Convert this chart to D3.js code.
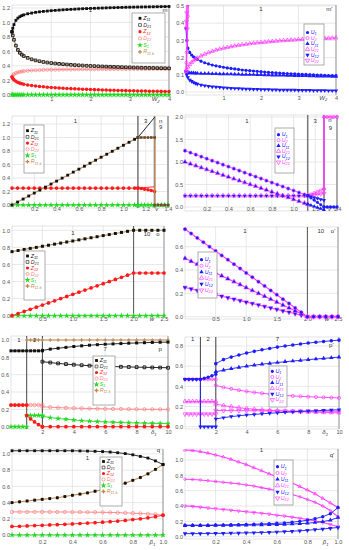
<!DOCTYPE html>
<html>
<head>
<meta charset="utf-8">
<script src="https://cdn.jsdelivr.net/npm/d3@7"></script>
<style>
  body { margin: 0; background: #fff; }
  svg { display: block; font-family: "Liberation Sans", Arial, sans-serif; }
</style>
</head>
<body>
<svg id="chart" width="349" height="550"></svg>
<script>
// ---------- legend keys ----------
var leftKeys = [
    {t: "Z", s: "11", c: "#111", sym: "sq"},
    {t: "D", s: "21", c: "#333", sym: "sq", open: true},
    {t: "Z", s: "12", c: "#ff1a1a", sym: "ci"},
    {t: "D", s: "22", c: "#ff8080", sym: "ci", open: true},
    {t: "S", s: "1", c: "#22d822", sym: "star"},
    {t: "R", s: "11 b", c: "#c08850", sym: "cross"}
];
var rightKeys = [
    {t: "U", s: "1", c: "#1c1cff", sym: "ci"},
    {t: "U", s: "2", c: "#ff3cff", sym: "ci", open: true},
    {t: "U", s: "11", c: "#1c1cff", sym: "tri"},
    {t: "U", s: "21", c: "#ff3cff", sym: "tri", open: true},
    {t: "U", s: "12", c: "#1c1cff", sym: "tri", rot: true},
    {t: "U", s: "22", c: "#ff3cff", sym: "tri", open: true, rot: true}
];

// ---------- m / m' : W2 ----------
var mW = [0,0.02,0.05,0.1,0.15,0.2,0.25,0.3,0.4,0.5,0.6,0.7,0.8,0.9,1.0,1.1,1.2,1.3,1.4,1.5,1.6,1.7,1.8,1.9,2.0,2.1,2.2,2.3,2.4,2.5,2.6,2.7,2.8,2.9,3.0,3.1,3.2,3.3,3.4,3.5,3.6,3.7,3.8,3.9,4.0];
var mZ11 = [0.87,0.92,0.97,1.03,1.06,1.08,1.095,1.105,1.12,1.13,1.14,1.147,1.153,1.158,1.163,1.167,1.171,1.175,1.178,1.181,1.184,1.187,1.19,1.192,1.194,1.196,1.198,1.2,1.202,1.204,1.205,1.207,1.208,1.21,1.211,1.212,1.213,1.214,1.215,1.216,1.217,1.218,1.219,1.22,1.221];
var mD21 = [0.87,0.82,0.76,0.68,0.62,0.58,0.555,0.535,0.51,0.49,0.475,0.463,0.453,0.445,0.438,0.432,0.427,0.422,0.418,0.414,0.41,0.407,0.404,0.401,0.398,0.396,0.393,0.391,0.389,0.387,0.385,0.383,0.381,0.379,0.378,0.376,0.375,0.373,0.372,0.371,0.37,0.368,0.367,0.366,0.365];
var mR11b = mD21; // R11b lies on the lower branch
var mZ12 = [0.245,0.225,0.205,0.185,0.17,0.16,0.152,0.145,0.135,0.127,0.12,0.114,0.109,0.104,0.1,0.096,0.093,0.09,0.087,0.084,0.081,0.079,0.076,0.074,0.072,0.07,0.068,0.066,0.064,0.062,0.061,0.059,0.058,0.056,0.055,0.054,0.052,0.051,0.05,0.049,0.048,0.047,0.046,0.045,0.044];
var mD22 = [0.245,0.265,0.285,0.3,0.31,0.317,0.322,0.326,0.332,0.336,0.339,0.341,0.343,0.345,0.346,0.347,0.348,0.349,0.35,0.35,0.351,0.351,0.352,0.352,0.353,0.353,0.353,0.354,0.354,0.354,0.355,0.355,0.355,0.355,0.356,0.356,0.356,0.356,0.356,0.356,0.357,0.357,0.357,0.357,0.357];
var mS1 = [0,0,0,0,0,0,0,0,0,0,0,0,0,0,0,0,0,0,0,0,0,0,0,0,0,0,0,0,0,0,0,0,0,0,0,0,0,0,0,0,0,0,0,0,0];
var mU1 = [0.37,0.3,0.255,0.23,0.215,0.205,0.197,0.19,0.179,0.17,0.163,0.157,0.152,0.148,0.144,0.14,0.137,0.134,0.131,0.128,0.126,0.124,0.122,0.12,0.118,0.116,0.114,0.113,0.111,0.11,0.108,0.107,0.106,0.105,0.104,0.103,0.102,0.101,0.1,0.099,0.098,0.097,0.096,0.096,0.095];
var mU11 = [0.12,0.116,0.113,0.111,0.11,0.11,0.109,0.109,0.108,0.107,0.107,0.106,0.106,0.105,0.105,0.104,0.104,0.103,0.103,0.102,0.102,0.101,0.101,0.1,0.1,0.099,0.099,0.098,0.098,0.097,0.097,0.096,0.096,0.095,0.095,0.094,0.094,0.093,0.093,0.092,0.092,0.091,0.091,0.09,0.09];
var mU12 = [0.12,0.1,0.085,0.07,0.062,0.056,0.051,0.047,0.041,0.037,0.034,0.031,0.029,0.027,0.025,0.024,0.022,0.021,0.02,0.019,0.018,0.017,0.016,0.016,0.015,0.014,0.014,0.013,0.013,0.012,0.012,0.012,0.011,0.011,0.01,0.01,0.01,0.01,0.009,0.009,0.009,0.009,0.008,0.008,0.008];
var mU21 = [0.12,0.13,0.145,0.16,0.172,0.182,0.19,0.197,0.21,0.22,0.229,0.237,0.244,0.25,0.255,0.26,0.264,0.268,0.272,0.275,0.278,0.281,0.284,0.286,0.288,0.29,0.292,0.294,0.296,0.298,0.299,0.301,0.302,0.303,0.305,0.306,0.307,0.308,0.309,0.31,0.311,0.312,0.313,0.314,0.315];
var mU2W = [0,0.01,0.02,0.03,0.04,0.05,0.06];
var mU2 = [0.12,0.17,0.23,0.3,0.37,0.44,0.51];
var mU22W = [0,0.01,0.02,0.03];
var mU22 = [0.37,0.41,0.46,0.51];

// ---------- n / n' : v ----------
var nV1 = [0,0.05,0.1,0.15,0.2,0.25,0.3,0.35,0.4,0.45,0.5,0.55,0.6,0.65,0.7,0.75,0.8,0.85,0.9,0.95,1.0,1.05,1.1,1.13];
var nV3 = [1.13,1.16,1.19,1.22,1.25,1.28];
var nV9 = [1.28,1.31,1.34,1.37,1.4];
var nVr = [1.13,1.16,1.19,1.22,1.25,1.28,1.28,1.31,1.34,1.37,1.4];
var nEnds3 = [1.13,1.28];
var nZ11 = [0,0.044,0.088,0.133,0.177,0.221,0.265,0.31,0.354,0.398,0.442,0.487,0.531,0.575,0.619,0.664,0.708,0.752,0.796,0.841,0.885,0.929,0.973,1.0];
var nZ11_3 = [1.0,1.3];
var nR11b_r = [1,1,1,1,1,1,0,0,0,0,0];
var nZ12 = [0.25,0.25,0.25,0.25,0.25,0.25,0.25,0.25,0.25,0.25,0.25,0.25,0.25,0.25,0.25,0.25,0.25,0.25,0.25,0.25,0.25,0.25,0.25,0.25];
var nZ12_3 = [0.25,0.245,0.235,0.225,0.215,0.2];
var nD22_3 = [0.25,0.27];
var nS1 = [0,0,0,0,0,0,0,0,0,0,0,0,0,0,0,0,0,0,0,0,0,0,0,0];
var nS1_3 = [0,0,0,0,0,0];
var nS1_9 = [0,0,0,0,0];
var nU1 = [1.25,1.206,1.162,1.117,1.073,1.029,0.985,0.94,0.896,0.852,0.808,0.763,0.719,0.675,0.631,0.586,0.542,0.498,0.454,0.409,0.365,0.321,0.277,0.25];
var nU11 = [1.0,0.959,0.917,0.876,0.834,0.793,0.751,0.71,0.668,0.627,0.585,0.544,0.502,0.461,0.419,0.378,0.336,0.295,0.253,0.212,0.17,0.129,0.087,0.062];
var nU12 = [0.25,0.25,0.25,0.25,0.25,0.25,0.25,0.25,0.25,0.25,0.25,0.25,0.25,0.25,0.25,0.25,0.25,0.25,0.25,0.25,0.25,0.25,0.25,0.25];
var nU1_3 = [0.25,0.2,0.15,0.1,0.05,0.0];
var nU2_3 = [0.25,0.28,0.31,0.34,0.37,0.4];
var nU11_3 = [0.062,0.037,0.012,-0.013,-0.038,-0.062];
var nU12_3 = [0.25,0.23,0.21,0.19,0.17,0.15];
var nU22_3 = [0.25,0.26,0.27,0.28,0.29,0.3];
var nU2_9X = [1.28,1.28,1.31,1.34,1.37,1.4];
var nU2_9 = [0.4,2,2,2,2,2];
var nU1_9 = [0,0,0,0,0];

// ---------- o / o' : w ----------
var oW = [0,0.1,0.2,0.3,0.4,0.5,0.6,0.7,0.8,0.9,1.0,1.1,1.2,1.3,1.4,1.5,1.6,1.7,1.8,1.9,2.0,2.1,2.2,2.3,2.4,2.5];
var oZ11 = [0.75,0.763,0.775,0.788,0.8,0.813,0.825,0.838,0.85,0.863,0.875,0.888,0.9,0.913,0.925,0.938,0.95,0.963,0.975,0.988,1,1,1,1,1,1];
var oZ12 = [0,0.025,0.05,0.075,0.1,0.125,0.15,0.175,0.2,0.225,0.25,0.275,0.3,0.325,0.35,0.375,0.4,0.425,0.45,0.475,0.5,0.5,0.5,0.5,0.5,0.5];
var oS1 = [0,0,0,0,0,0,0,0,0,0,0,0,0,0,0,0,0,0,0,0,0,0,0,0,0,0];
var oU1 = [0.75,0.713,0.675,0.638,0.6,0.563,0.525,0.488,0.45,0.413,0.375,0.338,0.3,0.263,0.225,0.188,0.15,0.113,0.075,0.038,0,0,0,0,0,0];
var oU11 = [0.5,0.475,0.45,0.425,0.4,0.375,0.35,0.325,0.3,0.275,0.25,0.225,0.2,0.175,0.15,0.125,0.1,0.075,0.05,0.025,0,0,0,0,0,0];
var oU12 = [0.25,0.238,0.225,0.213,0.2,0.188,0.175,0.163,0.15,0.138,0.125,0.113,0.1,0.088,0.075,0.063,0.05,0.038,0.025,0.013,0,0,0,0,0,0];

// ---------- p / p' : delta1 ----------
var pX1 = [0,0.25,0.5,0.75,1];
var pX2 = [1,1.25,1.5,1.75,2];
var pX12 = [0,0.25,0.5,0.75,1,1.25,1.5,1.75,2];
var pX7 = [2,2.5,3,3.5,4,4.5,5,5.5,6,6.5,7,7.5,8,8.5,9,9.5,10];
var pX17 = [1,1.25,1.5,1.75,2,2.5,3,3.5,4,4.5,5,5.5,6,6.5,7,7.5,8,8.5,9,9.5,10];
var pZ11a = [0.875,0.875,0.875,0.875,0.875,0.875,0.875,0.875,0.875];
var pZ11b = [0.88,0.895,0.905,0.915,0.925,0.933,0.94,0.946,0.951,0.955,0.959,0.963,0.966,0.969,0.972,0.974,0.976];
var pD21b = [0.75,0.74,0.73,0.722,0.715,0.709,0.704,0.7,0.697,0.694,0.691,0.689,0.687,0.685,0.683,0.682,0.68];
var pZ12a = [0.25,0.25,0.25,0.25,0.25];
var pZ12b = [0.13,0.09,0.055,0.025,0];
var pZ12c = [0,0,0,0,0,0,0,0,0,0,0,0,0,0,0,0,0];
var pD22a = [0.25,0.25,0.25,0.25,0.25,0.25,0.25,0.25,0.25];
var pD22b = [0.23,0.225,0.22,0.217,0.214,0.212,0.21,0.208,0.206,0.205,0.204,0.203,0.202,0.201,0.2,0.2,0.199];
var pS1a = [0,0,0,0,0];
var pS1b = [0.13,0.13,0.13,0.13,0.13];
var pS1c = [0.12,0.105,0.095,0.085,0.077,0.07,0.064,0.059,0.055,0.051,0.048,0.045,0.043,0.041,0.039,0.037,0.035];
var pR11ba = [0.875,0.875,0.875,0.875,0.875];
var pR11bb = [1,1,1,1,1,1,1,1,1,1,1,1,1,1,1,1,1,1,1,1,1];
var pU1a = [0.47,0.47,0.47,0.47,0.47];
var pU1b = [0.47,0.48,0.49,0.505,0.52];
var pU1c = [0.625,0.665,0.69,0.71,0.73,0.747,0.762,0.776,0.789,0.8,0.81,0.82,0.829,0.837,0.845,0.852,0.858];
var pU11c = [0.545,0.56,0.575,0.588,0.6,0.61,0.62,0.628,0.636,0.644,0.651,0.658,0.665,0.671,0.677,0.683,0.69];
var pU12aX = [0,0.25,0.5,0.75,1,1,1.25,1.5,1.75,2];
var pU12a = [0.47,0.47,0.47,0.47,0.47,0,0,0,0,0];
var pU12c = [0.077,0.09,0.1,0.108,0.116,0.122,0.128,0.133,0.138,0.143,0.147,0.151,0.155,0.158,0.162,0.165,0.168];
var pU2a = [0.47,0.47,0.47,0.47,0.47,0.47,0.47,0.47,0.47];
var pU2c = [0.41,0.39,0.375,0.362,0.35,0.34,0.331,0.323,0.316,0.31,0.305,0.301,0.297,0.294,0.291,0.288,0.285];
var pU21a = [0.25,0.25,0.25,0.25,0.25,0.25,0.25,0.25,0.25];
var pU21c = [0.225,0.21,0.198,0.188,0.18,0.173,0.167,0.162,0.158,0.154,0.151,0.148,0.146,0.144,0.142,0.14,0.138];
var pU22a = [0.125,0.125,0.125,0.125,0.125,0.125,0.125,0.125,0.125];
var pU22c = [0.16,0.16,0.159,0.159,0.158,0.158,0.157,0.157,0.156,0.156,0.155,0.155,0.154,0.154,0.153,0.153,0.152];

// ---------- q / q' : beta1 ----------
var qB = [0,0.05,0.1,0.15,0.2,0.25,0.3,0.35,0.4,0.45,0.5,0.55,0.6,0.65,0.7,0.75,0.8,0.85,0.9,0.95,1.0];
var qZ11 = [1.04,1.04,1.04,1.04,1.04,1.04,1.04,1.04,1.04,1.038,1.036,1.033,1.03,1.024,1.016,1.005,0.99,0.97,0.95,0.915,0.87];
var qD21 = [0.4,0.41,0.42,0.43,0.44,0.45,0.46,0.475,0.49,0.505,0.52,0.54,0.56,0.585,0.61,0.64,0.675,0.71,0.755,0.81,0.87];
var qR11b = qD21; // R11b lies on the lower branch
var qZ12 = [0.105,0.108,0.112,0.116,0.12,0.124,0.128,0.132,0.137,0.142,0.147,0.152,0.158,0.165,0.172,0.18,0.19,0.2,0.212,0.226,0.245];
var qD22 = [0.285,0.285,0.285,0.285,0.285,0.285,0.284,0.284,0.283,0.283,0.282,0.281,0.28,0.278,0.276,0.273,0.27,0.266,0.261,0.254,0.245];
var qS1 = [0,0,0,0,0,0,0,0,0,0,0,0,0,0,0,0,0,0,0,0,0];
var qU21 = [1.13,1.125,1.11,1.09,1.065,1.04,1.01,0.975,0.94,0.9,0.86,0.82,0.78,0.74,0.7,0.655,0.61,0.56,0.5,0.44,0.38];
var qU2 = [0.75,0.745,0.74,0.73,0.72,0.71,0.7,0.69,0.675,0.66,0.64,0.62,0.6,0.575,0.55,0.52,0.485,0.45,0.4,0.34,0.26];
var qU22 = [0.4,0.395,0.385,0.375,0.365,0.355,0.345,0.335,0.325,0.315,0.305,0.295,0.28,0.27,0.255,0.24,0.225,0.205,0.185,0.16,0.13];
var qU1 = [0.15,0.15,0.15,0.15,0.152,0.154,0.156,0.158,0.16,0.163,0.166,0.17,0.175,0.18,0.19,0.2,0.215,0.235,0.26,0.3,0.38];
var qU11 = [0.145,0.145,0.145,0.145,0.146,0.147,0.148,0.149,0.15,0.152,0.154,0.156,0.158,0.161,0.165,0.17,0.176,0.185,0.197,0.215,0.25];
var qU12 = [0.04,0.04,0.041,0.042,0.043,0.044,0.046,0.048,0.05,0.052,0.055,0.058,0.062,0.066,0.071,0.077,0.084,0.092,0.1,0.11,0.12];

// ---------- drawing ----------
var BLK = "#111", GRY = "#222", RED = "#ff1a1a", PNK = "#ff8080", GRN = "#22d822",
    BRN = "#c08850", DBR = "#6b4a2a", BLU = "#1c1cff", MAG = "#ff3cff";

var symbols = {sq: d3.symbolSquare, ci: d3.symbolCircle, star: d3.symbolStar,
               tri: d3.symbolTriangle, cross: d3.symbolCross};

function S(x, y, c, sym, o) {
    o = o || {};
    return {x: x, y: y, c: c, sym: sym, open: !!o.open, rot: !!o.rot,
            line: o.line || null, lw: o.lw || 0.9, ms: o.ms || 9, sw: o.sw || 0.7};
}

var svg = d3.select("#chart");

function styleAxis(g) {
    g.select(".domain").remove();
    g.attr("font-size", 5.6).attr("font-family", "Liberation Sans, Arial, sans-serif");
    g.selectAll("text").attr("fill", "#555");
}

function drawLegend(lg, keys) {
    var g = svg.append("g");
    g.append("rect")
        .attr("x", lg.x).attr("y", lg.y).attr("width", lg.w).attr("height", lg.h)
        .attr("fill", "#fff").attr("stroke", "#999").attr("stroke-width", 0.8);
    keys.forEach(function (k, i) {
        var cy = lg.y + lg.first + i * lg.step;
        var mx = lg.x + lg.mx;
        g.append("path")
            .attr("transform", "translate(" + mx + "," + cy + ")" + (k.rot ? " rotate(180)" : ""))
            .attr("d", d3.symbol().type(symbols[k.sym]).size(k.sym === "star" ? 11 : 8)())
            .attr("fill", k.open ? "none" : k.c)
            .attr("stroke", k.open ? k.c : "none").attr("stroke-width", 0.7);
        var t = g.append("text")
            .attr("x", mx + 3.2).attr("y", cy + 1.6)
            .attr("font-size", 5.3).attr("font-style", "italic").attr("fill", k.c);
        t.append("tspan").text(k.t);
        t.append("tspan").attr("font-size", 3.8).attr("dy", 1.2).text(k.s);
    });
}

function drawPanel(p, idx) {
    var x = d3.scaleLinear().domain(p.xd).range(p.xr),
        y = d3.scaleLinear().domain(p.yd).range(p.yr),
        L = p.xr[0], R = p.xr[1], T = p.top, B = p.bottom;

    var g = svg.append("g").attr("class", "panel");
    var clip = "clip" + idx;
    g.append("clipPath").attr("id", clip).append("rect")
        .attr("x", L - 2).attr("y", T).attr("width", R - L + 4).attr("height", B - T + 2);

    // grid
    g.append("g").selectAll("line").data(p.yt).enter().append("line")
        .attr("x1", L).attr("x2", R)
        .attr("y1", function (d) { return y(d); }).attr("y2", function (d) { return y(d); })
        .attr("stroke", "#dedede").attr("stroke-width", 0.7);
    g.append("g").selectAll("line").data(p.xg).enter().append("line")
        .attr("x1", function (d) { return x(d); }).attr("x2", function (d) { return x(d); })
        .attr("y1", T).attr("y2", B)
        .attr("stroke", "#dedede").attr("stroke-width", 0.7);
    g.append("rect")
        .attr("x", L).attr("y", T).attr("width", R - L).attr("height", B - T)
        .attr("fill", "none").attr("stroke", "#d0d0d0").attr("stroke-width", 0.6);

    // axes
    var yAxis = d3.axisLeft(y).tickValues(p.yt).tickFormat(d3.format(p.yf)).tickSize(0).tickPadding(2);
    g.append("g").attr("transform", "translate(" + L + ",0)").call(yAxis).call(styleAxis);
    var xAxis = d3.axisBottom(x).tickValues(p.xt).tickFormat(d3.format(p.xf)).tickSize(0).tickPadding(0);
    g.append("g").attr("transform", "translate(0," + (p.xly - 3.9) + ")").call(xAxis).call(styleAxis);

    // region boundaries
    p.bounds.forEach(function (b) {
        g.append("line")
            .attr("x1", x(b.x)).attr("x2", x(b.x)).attr("y1", T).attr("y2", B)
            .attr("stroke", b.c).attr("stroke-width", b.w);
    });

    // series
    var sg = g.append("g").attr("clip-path", "url(#" + clip + ")");
    var line = d3.line()
        .x(function (d) { return x(d[0]); })
        .y(function (d) { return y(d[1]); });
    p.series.forEach(function (s) {
        var pts = d3.zip(s.x, s.y);
        if (s.line) {
            sg.append("path").datum(pts).attr("d", line)
                .attr("fill", "none").attr("stroke", s.line).attr("stroke-width", s.lw);
        }
        if (s.sym) {
            sg.append("g").selectAll("path").data(pts).enter().append("path")
                .attr("transform", function (d) {
                    return "translate(" + x(d[0]) + "," + y(d[1]) + ")" + (s.rot ? " rotate(180)" : "");
                })
                .attr("d", d3.symbol().type(symbols[s.sym]).size(s.ms)())
                .attr("fill", s.open ? "none" : s.c)
                .attr("stroke", s.open ? s.c : "none").attr("stroke-width", s.sw);
        }
    });

    // annotations
    p.texts.forEach(function (t) {
        g.append("text")
            .attr("x", x(t.x)).attr("y", y(t.y)).attr("text-anchor", "middle")
            .attr("font-size", 6).attr("fill", "#333").text(t.s);
    });
    var xl = g.append("text")
        .attr("x", x(p.xlab.x)).attr("y", p.xly).attr("text-anchor", "middle")
        .attr("font-size", 6).attr("font-style", "italic").attr("fill", "#444");
    xl.append("tspan").text(p.xlab.t);
    if (p.xlab.s) xl.append("tspan").attr("font-size", 4.2).attr("dy", 1.3).text(p.xlab.s);

    drawLegend(p.legend, p.keys);
}

var panels = [
    { // m
        xd: [0, 4], xr: [12, 169], yd: [0, 1.2], yr: [94.7, 8], top: 5, bottom: 97,
        xt: [1, 2, 3, 4], xg: [1, 2, 3], xf: "d", yt: [0, 0.2, 0.4, 0.6, 0.8, 1.0, 1.2], yf: ".1f", xly: 101.3,
        bounds: [{x: 4, c: "#999", w: 1}],
        xlab: {t: "W", s: "2", x: 3.66},
        texts: [{s: "1", x: 2.0, y: 1.14}, {s: "m", x: 3.9, y: 1.15}],
        legend: {x: 132, y: 13, w: 33, h: 50, first: 5.3, step: 6.7, mx: 8}, keys: leftKeys,
        series: [
            S(mW, mS1, GRN, "star", {line: GRN, ms: 11}),
            S(mW, mD22, PNK, "ci", {open: true, line: PNK, ms: 8}),
            S(mW, mZ12, RED, "ci", {line: RED, ms: 10}),
            S(mW, mR11b, BRN, null, {line: BRN, lw: 1.1}),
            S(mW, mD21, GRY, "sq", {open: true, ms: 7, sw: 1}),
            S(mW, mZ11, BLK, "sq", {line: BLK, ms: 8})
        ]
    },
    { // m'
        xd: [0, 4], xr: [186, 336], yd: [0, 0.5], yr: [92, 6], top: 5, bottom: 95,
        xt: [1, 2, 3, 4], xg: [1, 2, 3], xf: "d", yt: [0, 0.1, 0.2, 0.3, 0.4, 0.5], yf: ".1f", xly: 99.7,
        bounds: [{x: 4, c: "#999", w: 1}],
        xlab: {t: "W", s: "2", x: 3.66},
        texts: [{s: "1", x: 2.0, y: 0.47}, {s: "m'", x: 3.82, y: 0.47}],
        legend: {x: 304, y: 24, w: 20, h: 41, first: 8.5, step: 5.6, mx: 3.5}, keys: rightKeys,
        series: [
            S(mW, mU12, BLU, "tri", {rot: true, line: BLU, ms: 8}),
            S(mW, mU11, BLU, "tri", {line: BLU, ms: 8}),
            S(mW, mU1, BLU, "ci", {line: BLU, ms: 8}),
            S(mW, mU21, MAG, "tri", {open: true, line: MAG, ms: 7}),
            S(mU2W, mU2, MAG, "ci", {open: true, line: MAG, lw: 1.4, ms: 7}),
            S(mU22W, mU22, MAG, "tri", {open: true, rot: true, line: MAG, lw: 1.4, ms: 7})
        ]
    },
    { // n
        xd: [0, 1.4], xr: [12, 168], yd: [0, 1.2], yr: [205, 124], top: 116, bottom: 208,
        xt: [0.2, 0.4, 0.6, 0.8, 1.0, 1.2, 1.4], xg: [0.2, 0.4, 0.6, 0.8, 1.0, 1.2], xf: ".1f",
        yt: [0, 0.2, 0.4, 0.6, 0.8, 1.0, 1.2], yf: ".1f", xly: 211.3,
        bounds: [{x: 1.13, c: "#777", w: 1.5}, {x: 1.28, c: "#999", w: 2}, {x: 1.4, c: "#aaa", w: 2}],
        xlab: {t: "v", s: "", x: 1.3},
        texts: [{s: "1", x: 0.57, y: 1.21}, {s: "3", x: 1.2, y: 1.21}, {s: "n", x: 1.335, y: 1.21}, {s: "9", x: 1.335, y: 1.12}],
        legend: {x: 24, y: 125, w: 20, h: 48, first: 5.7, step: 6.2, mx: 3.5}, keys: leftKeys,
        series: [
            S(nV1, nS1, GRN, "star", {line: GRN, ms: 11}),
            S(nV3, nS1_3, GRN, "star", {line: GRN, ms: 11}),
            S(nV9, nS1_9, GRN, "star", {line: GRN, ms: 11}),
            S(nV1, nZ12, RED, "ci", {line: RED, ms: 10}),
            S(nEnds3, nD22_3, RED, null, {line: RED}),
            S(nV3, nZ12_3, RED, "ci", {line: RED, ms: 10}),
            S(nV1, nZ11, BLK, "sq", {line: BRN, lw: 1.1, ms: 8}),
            S(nEnds3, nZ11_3, BLK, null, {line: BLK}),
            S(nVr, nR11b_r, DBR, "sq", {line: BRN, lw: 1.2, ms: 7})
        ]
    },
    { // n'
        xd: [0, 1.4], xr: [185, 337], yd: [0, 2], yr: [207, 117], top: 115, bottom: 211,
        xt: [0.2, 0.4, 0.6, 0.8, 1.0, 1.2, 1.4], xg: [0.2, 0.4, 0.6, 0.8, 1.0, 1.2], xf: ".1f",
        yt: [0, 0.5, 1.0, 1.5, 2.0], yf: ".1f", xly: 211.3,
        bounds: [{x: 1.13, c: "#777", w: 1.5}, {x: 1.28, c: "#999", w: 2}, {x: 1.4, c: "#aaa", w: 2}],
        xlab: {t: "v", s: "", x: 1.33},
        texts: [{s: "1", x: 0.57, y: 1.86}, {s: "3", x: 1.2, y: 1.86}, {s: "n'", x: 1.34, y: 1.9}, {s: "9", x: 1.34, y: 1.72}],
        legend: {x: 275, y: 128, w: 19, h: 45, first: 6.7, step: 5.5, mx: 3.5}, keys: rightKeys,
        series: [
            S(nV1, nU12, MAG, "tri", {open: true, line: MAG, ms: 9}),
            S(nV1, nU12, BLU, "tri", {rot: true, ms: 6}),
            S(nV1, nU11, MAG, "tri", {open: true, line: MAG, ms: 9}),
            S(nV1, nU11, BLU, "tri", {ms: 6}),
            S(nV1, nU1, MAG, "ci", {open: true, line: MAG, ms: 9}),
            S(nV1, nU1, BLU, "ci", {ms: 6}),
            S(nV3, nU22_3, MAG, "tri", {open: true, rot: true, line: MAG, ms: 7}),
            S(nV3, nU2_3, MAG, "ci", {open: true, line: MAG, ms: 7}),
            S(nV3, nU12_3, BLU, "tri", {rot: true, line: BLU, ms: 7}),
            S(nV3, nU11_3, BLU, "tri", {line: BLU, ms: 7}),
            S(nV3, nU1_3, BLU, "ci", {line: BLU, ms: 7}),
            S(nU2_9X, nU2_9, MAG, "ci", {open: true, line: MAG, lw: 1.6, ms: 8}),
            S(nV9, nU1_9, BLU, "ci", {line: BLU, ms: 9})
        ]
    },
    { // o
        xd: [0, 2.5], xr: [12, 164], yd: [0, 1], yr: [315.7, 230.3], top: 226, bottom: 318,
        xt: [0.5, 1.0, 1.5, 2.0, 2.5], xg: [0.5, 1.0, 1.5, 2.0], xf: ".1f",
        yt: [0, 0.2, 0.4, 0.6, 0.8, 1.0], yf: ".1f", xly: 321.3,
        bounds: [{x: 2.0, c: "#555", w: 1}, {x: 2.5, c: "#999", w: 1}],
        xlab: {t: "w", s: "", x: 2.3},
        texts: [{s: "1", x: 1.0, y: 0.95}, {s: "10", x: 2.22, y: 0.93}, {s: "o", x: 2.4, y: 0.93}],
        legend: {x: 24, y: 251, w: 21, h: 49, first: 5, step: 6, mx: 3.5}, keys: leftKeys,
        series: [
            S(oW, oS1, GRN, "star", {line: GRN, ms: 11}),
            S(oW, oZ12, RED, "ci", {line: RED, ms: 11}),
            S(oW, oZ11, BLK, "sq", {line: BRN, lw: 1.1, ms: 9})
        ]
    },
    { // o'
        xd: [0, 2.5], xr: [185, 338], yd: [0, 0.6], yr: [316.7, 246.7], top: 227, bottom: 319,
        xt: [0.5, 1.0, 1.5, 2.0, 2.5], xg: [0.5, 1.0, 1.5, 2.0], xf: ".1f",
        yt: [0, 0.2, 0.4, 0.6], yf: ".1f", xly: 321.3,
        bounds: [{x: 2.0, c: "#555", w: 1}, {x: 2.5, c: "#999", w: 1}],
        xlab: {t: "w", s: "", x: 2.32},
        texts: [{s: "1", x: 0.98, y: 0.72}, {s: "10", x: 2.22, y: 0.72}, {s: "o'", x: 2.42, y: 0.72}],
        legend: {x: 198, y: 252, w: 19, h: 46, first: 7.7, step: 6.1, mx: 3.5}, keys: rightKeys,
        series: [
            S(oW, oU12, MAG, "tri", {open: true, rot: true, line: MAG, lw: 1.1, ms: 9}),
            S(oW, oU12, BLU, "tri", {rot: true, ms: 7}),
            S(oW, oU11, MAG, "tri", {open: true, line: MAG, lw: 1.1, ms: 9}),
            S(oW, oU11, BLU, "tri", {ms: 7}),
            S(oW, oU1, MAG, "ci", {open: true, line: MAG, lw: 1.1, ms: 9}),
            S(oW, oU1, BLU, "ci", {ms: 7})
        ]
    },
    { // p
        xd: [0, 10], xr: [11, 168], yd: [0, 1], yr: [426.7, 340], top: 336, bottom: 429,
        xt: [2, 4, 6, 8, 10], xg: [2, 4, 6, 8], xf: "d",
        yt: [0, 0.2, 0.4, 0.6, 0.8, 1.0], yf: ".1f", xly: 434.3,
        bounds: [{x: 1, c: "#444", w: 1}, {x: 2, c: "#444", w: 1}, {x: 10, c: "#999", w: 1}],
        xlab: {t: "\u03b4", s: "1", x: 9.1},
        texts: [{s: "1", x: 0.5, y: 0.98}, {s: "2", x: 1.5, y: 0.98}, {s: "7", x: 6.0, y: 0.87}, {s: "p", x: 9.5, y: 0.87}],
        legend: {x: 93, y: 356, w: 22, h: 49, first: 4.5, step: 6, mx: 3.5}, keys: leftKeys,
        series: [
            S(pX1, pS1a, GRN, "star", {line: GRN, ms: 11}),
            S(pX2, pS1b, GRN, "star", {line: GRN, ms: 11}),
            S(pX7, pS1c, GRN, "star", {line: GRN, ms: 11}),
            S(pX12, pD22a, PNK, "ci", {open: true, line: PNK, ms: 9}),
            S(pX7, pD22b, PNK, "ci", {open: true, line: PNK, ms: 9}),
            S(pX1, pZ12a, RED, "ci", {line: RED, ms: 11}),
            S(pX2, pZ12b, RED, "ci", {line: RED, ms: 11}),
            S(pX7, pZ12c, RED, "ci", {line: RED, ms: 11}),
            S(pX1, pR11ba, BRN, null, {line: BRN, lw: 1.1}),
            S(pX17, pR11bb, BRN, "cross", {line: BRN, lw: 1.1, ms: 6}),
            S(pX12, pZ11a, BLK, "sq", {line: BLK, ms: 9}),
            S(pX7, pZ11b, BLK, "sq", {line: BLK, ms: 9}),
            S(pX7, pD21b, GRY, "sq", {open: true, line: BLK, ms: 8, sw: 1})
        ]
    },
    { // p'
        xd: [0, 10], xr: [185, 339], yd: [0, 0.8], yr: [426.7, 346], top: 337, bottom: 429,
        xt: [2, 4, 6, 8, 10], xg: [2, 4, 6, 8], xf: "d",
        yt: [0, 0.2, 0.4, 0.6, 0.8], yf: ".1f", xly: 434.3,
        bounds: [{x: 1, c: "#444", w: 1}, {x: 2, c: "#444", w: 1}, {x: 10, c: "#999", w: 1}],
        xlab: {t: "\u03b4", s: "1", x: 9.1},
        texts: [{s: "1", x: 0.5, y: 0.845}, {s: "2", x: 1.5, y: 0.845}, {s: "7", x: 6.0, y: 0.845}, {s: "p'", x: 9.5, y: 0.79}],
        legend: {x: 269, y: 366, w: 18, h: 41, first: 5.3, step: 5.7, mx: 3.3}, keys: rightKeys,
        series: [
            S(pX12, pU22a, MAG, "tri", {open: true, rot: true, line: MAG, ms: 8}),
            S(pX7, pU22c, MAG, "tri", {open: true, rot: true, line: MAG, ms: 8}),
            S(pX12, pU21a, MAG, "tri", {open: true, line: MAG, ms: 8}),
            S(pX7, pU21c, MAG, "tri", {open: true, line: MAG, ms: 8}),
            S(pX12, pU2a, MAG, "ci", {open: true, line: MAG, ms: 8}),
            S(pX7, pU2c, MAG, "ci", {open: true, line: MAG, ms: 8}),
            S(pU12aX, pU12a, BLU, "tri", {rot: true, line: BLU, ms: 8}),
            S(pX7, pU12c, BLU, "tri", {rot: true, line: BLU, ms: 8}),
            S(pX1, pU1a, BLU, "ci", {ms: 6}),
            S(pX2, pU1b, BLU, "ci", {line: BLU, ms: 9}),
            S(pX7, pU11c, BLU, "tri", {line: BLU, ms: 9}),
            S(pX7, pU1c, BLU, "ci", {line: BLU, ms: 10})
        ]
    },
    { // q
        xd: [0, 1], xr: [12, 163], yd: [0, 1], yr: [535, 454], top: 449, bottom: 537,
        xt: [0.2, 0.4, 0.6, 0.8, 1.0], xg: [0.2, 0.4, 0.6, 0.8], xf: ".1f",
        yt: [0, 0.2, 0.4, 0.6, 0.8, 1.0], yf: ".1f", xly: 544.3,
        bounds: [{x: 1.0, c: "#999", w: 1}],
        xlab: {t: "\u03b2", s: "1", x: 0.93},
        texts: [{s: "1", x: 0.5, y: 0.92}, {s: "q", x: 0.97, y: 1.02}],
        legend: {x: 100, y: 457, w: 22, h: 49, first: 4.5, step: 6, mx: 3.5}, keys: leftKeys,
        series: [
            S(qB, qS1, GRN, "star", {line: GRN, ms: 11}),
            S(qB, qD22, PNK, "ci", {open: true, line: PNK, ms: 9}),
            S(qB, qZ12, RED, "ci", {line: RED, ms: 11}),
            S(qB, qR11b, BRN, "cross", {line: BRN, lw: 1.1, ms: 6}),
            S(qB, qD21, BLK, "sq", {ms: 8}),
            S(qB, qZ11, BLK, "sq", {line: BLK, ms: 8})
        ]
    },
    { // q'
        xd: [0, 1], xr: [185, 338], yd: [0, 1], yr: [536.7, 460], top: 449, bottom: 539,
        xt: [0.2, 0.4, 0.6, 0.8, 1.0], xg: [0.2, 0.4, 0.6, 0.8], xf: ".1f",
        yt: [0, 0.2, 0.4, 0.6, 0.8, 1.0], yf: ".1f", xly: 544.3,
        bounds: [{x: 1.0, c: "#999", w: 1}],
        xlab: {t: "\u03b2", s: "1", x: 0.92},
        texts: [{s: "1", x: 0.5, y: 1.11}, {s: "q'", x: 0.96, y: 1.04}],
        legend: {x: 274, y: 460, w: 19, h: 45, first: 6.7, step: 6.3, mx: 3.5}, keys: rightKeys,
        series: [
            S(qB, qU21, MAG, "tri", {open: true, line: MAG, lw: 1.1, ms: 5}),
            S(qB, qU2, MAG, "ci", {open: true, line: MAG, lw: 1.1, ms: 5}),
            S(qB, qU22, MAG, "tri", {open: true, rot: true, line: MAG, lw: 1.1, ms: 5}),
            S(qB, qU12, BLU, "tri", {rot: true, line: BLU, ms: 9}),
            S(qB, qU11, BLU, "tri", {line: BLU, ms: 9}),
            S(qB, qU1, BLU, "ci", {line: BLU, ms: 9})
        ]
    }
];

panels.forEach(drawPanel);
</script>
</body>
</html>
